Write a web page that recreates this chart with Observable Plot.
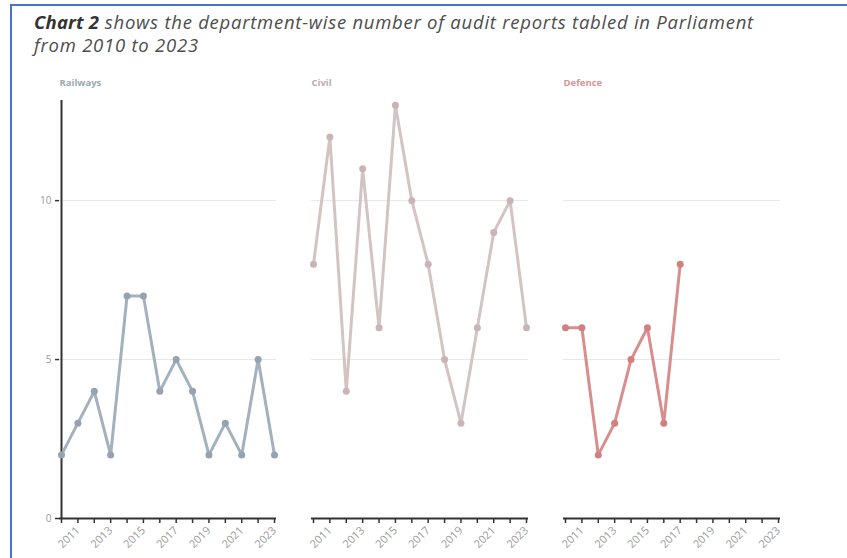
<!DOCTYPE html>
<html>
<head>
<meta charset="utf-8">
<script src="https://cdn.jsdelivr.net/npm/d3@7"></script>
<script src="https://cdn.jsdelivr.net/npm/@observablehq/plot@0.6"></script>
<style>
  html, body { margin: 0; padding: 0; background: #fff; }
  body { width: 847px; height: 558px; position: relative; overflow: hidden; font-family: "Open Sans", sans-serif; }
  #frame { position: absolute; left: 10px; top: 4px; right: -5px; bottom: -5px; border-left: 2px solid #4a74c9; border-top: 2px solid #4a74c9; }
  #title { position: absolute; left: 34px; top: 10px; font-size: 18.5px; line-height: 23px; font-style: italic; color: #4d4d4d; letter-spacing: 0.75px; }
  #title b { color: #333; letter-spacing: 0.2px; }
  #chart { position: absolute; left: 0; top: 65px; }
</style>
</head>
<body>
<div id="frame"></div>
<div id="title"><b>Chart 2</b> shows the department-wise number of audit reports tabled in Parliament<br>from 2010 to 2023</div>
<div id="chart"></div>
<script>
const years = [2010, 2011, 2012, 2013, 2014, 2015, 2016, 2017, 2018, 2019, 2020, 2021, 2022, 2023];
const departments = ["Railways", "Civil", "Defence"];
const railways = [2, 3, 4, 2, 7, 7, 4, 5, 4, 2, 3, 2, 5, 2];
const civil = [8, 12, 4, 11, 6, 13, 10, 8, 5, 3, 6, 9, 10, 6];
const defence = [6, 6, 2, 3, 5, 6, 3, 8];
const yTicks = [0, 5, 10];
const xTickLabels = [2011, 2013, 2015, 2017, 2019, 2021, 2023];
const lineColors = ["#a2b1bd", "#d3c4c3", "#d98e8e"];
const dotColors = ["#94a3af", "#c7b6b5", "#d27f7f"];
const labelColors = ["#9aa9b6", "#b8acac", "#d49696"];

const seriesValues = [railways, civil, defence];
const rows = [];
departments.forEach((dept, i) => {
  seriesValues[i].forEach((v, j) => rows.push({dept, year: years[j], value: v}));
});

const chart = Plot.plot({
  width: 847,
  height: 498,
  marginLeft: 58,
  marginRight: 65,
  marginTop: 35,
  marginBottom: 45,
  style: {fontFamily: "Open Sans, sans-serif", background: "transparent"},
  fx: {domain: departments, paddingInner: 0.138, paddingOuter: 0, axis: null},
  x: {domain: [years[0], years[years.length - 1]], insetLeft: 2, insetRight: 2, axis: null},
  y: {domain: [0, 13.15], axis: null},
  color: {domain: departments, range: lineColors},
  marks: [
    Plot.gridY(yTicks.slice(1), {stroke: "#e6e6e6", strokeOpacity: 1, strokeWidth: 1}),
    Plot.axisY(yTicks, {anchor: "left", label: null, tickSize: 4, tickPadding: 4, stroke: "#333", strokeWidth: 1.5, fill: "#999", fontSize: 10}),
    Plot.axisX(years, {
      anchor: "bottom", label: null, tickSize: 5, tickPadding: 5, tickRotate: -45,
      tickFormat: d => xTickLabels.includes(d) ? String(d) : "",
      stroke: "#333", strokeWidth: 1.5, fill: "#9a9a9a", fontSize: 11
    }),
    Plot.ruleY([0], {stroke: "#333", strokeWidth: 2}),
    Plot.ruleX(departments.slice(0, 1), {fx: d => d, x: () => years[0], y1: () => 0, y2: () => 13.15, stroke: "#333", strokeWidth: 2}),
    Plot.line(rows, {fx: "dept", x: "year", y: "value", stroke: "dept", strokeWidth: 3}),
    Plot.dot(rows, {fx: "dept", x: "year", y: "value", r: 3.5, fill: d => dotColors[departments.indexOf(d.dept)], stroke: "none"}),
    Plot.text(departments, {fx: d => d, text: d => d, frameAnchor: "top-left", textAnchor: "start", dy: -21, fontSize: 9.5, fontWeight: "bold",
      fill: d => labelColors[departments.indexOf(d)]})
  ]
});
document.getElementById("chart").appendChild(chart);
</script>
</body>
</html>
